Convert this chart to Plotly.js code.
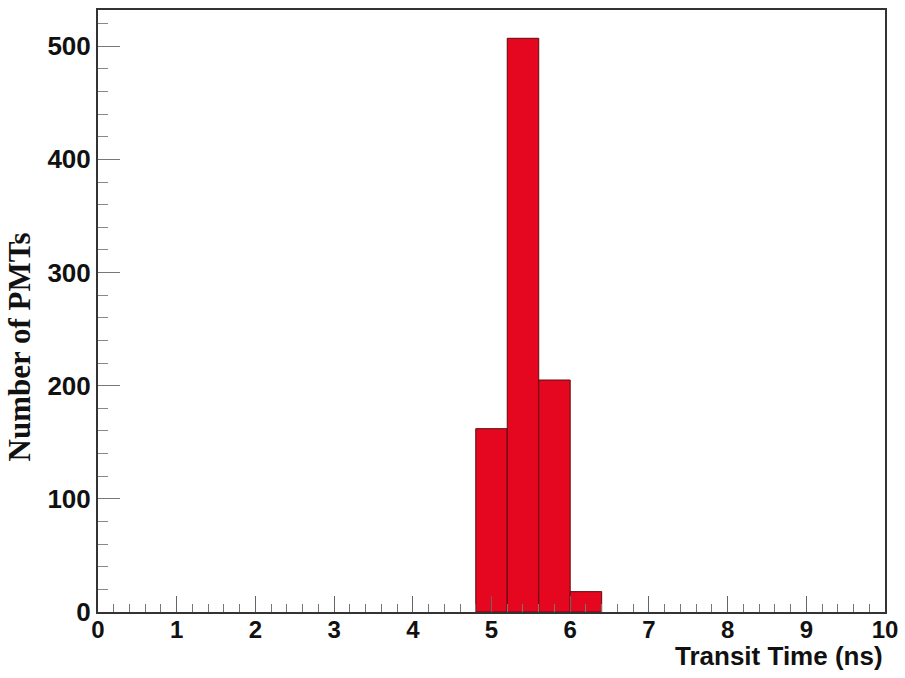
<!DOCTYPE html>
<html>
<head>
<meta charset="utf-8">
<script src="https://cdn.plot.ly/plotly-3.0.1.min.js"></script>
<style>html,body{margin:0;padding:0;background:#fff;}#chart{width:905px;height:678px;}</style>
</head>
<body>
<div id="chart"></div>
<script>
// Histogram bins (ns) and counts
const binCenters = [5.0, 5.4, 5.8, 6.2];
const binWidth = [0.4, 0.4, 0.4, 0.4];
const counts = [162, 507, 205, 18];
const xTitle = "Transit Time (ns)";
const yTitle = "Number of PMTs";

const trace = {
  type: 'bar',
  x: binCenters,
  y: counts,
  width: binWidth,
  marker: {color: '#e5071f', line: {color: '#5a0d0d', width: 1}},
  hoverinfo: 'x+y'
};

const sans = '"Liberation Sans", Arial, Helvetica, sans-serif';

const layout = {
  width: 905, height: 678,
  margin: {l: 98, r: 20, t: 10, b: 66},
  paper_bgcolor: '#fff', plot_bgcolor: '#fff',
  showlegend: false,
  bargap: 0,
  xaxis: {
    range: [0, 10], dtick: 1, tick0: 0,
    ticks: 'inside', ticklen: 16, tickwidth: 1, tickcolor: '#666',
    minor: {dtick: 0.2, ticks: 'inside', ticklen: 8, tickcolor: '#777', tickwidth: 1, showgrid: false},
    showgrid: false, zeroline: false,
    showline: true, mirror: true, linecolor: '#333', linewidth: 2,
    tickfont: {family: sans, size: 24, color: '#111', weight: 'bold'}, ticklabelstandoff: -5
  },
  yaxis: {
    range: [0, 532], dtick: 100, tick0: 0,
    ticks: 'inside', ticklen: 22, tickwidth: 1, tickcolor: '#777',
    minor: {dtick: 20, ticks: 'inside', ticklen: 10, tickcolor: '#888', tickwidth: 1, showgrid: false},
    showgrid: false, zeroline: false,
    showline: true, mirror: true, linecolor: '#333', linewidth: 2,
    tickfont: {family: sans, size: 26, color: '#111', weight: 'bold'}, ticklabelstandoff: 0
  },
  annotations: [
    {text: '<b>' + xTitle + '</b>', xref: 'paper', yref: 'paper', x: 1, y: -0.102, xanchor: 'right', yanchor: 'bottom', showarrow: false,
     font: {family: sans, size: 26, color: '#111'}},
    {text: '<b>' + yTitle + '</b>', xref: 'paper', yref: 'paper', x: -0.1, xanchor: 'center', y: 0.44, yanchor: 'middle', textangle: -90, showarrow: false,
     font: {family: '"Liberation Serif", "Times New Roman", serif', size: 31, color: '#111'}}
  ]
};

Plotly.newPlot('chart', [trace], layout, {displayModeBar: false, staticPlot: true});
</script>
</body>
</html>
